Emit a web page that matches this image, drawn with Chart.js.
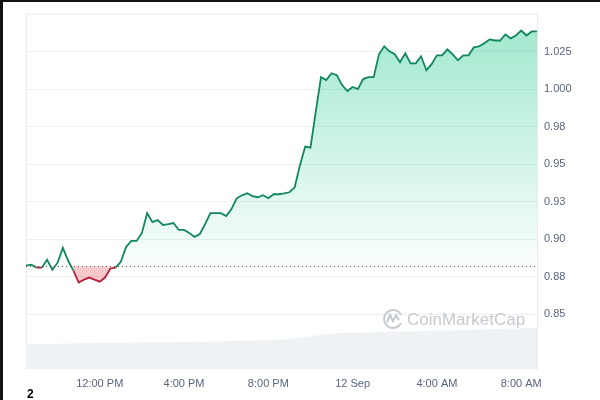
<!DOCTYPE html>
<html>
<head>
<meta charset="utf-8">
<script src="https://cdn.jsdelivr.net/npm/chart.js@4.4.1/dist/chart.umd.min.js"></script>
<style>
  html, body { margin: 0; padding: 0; background: #fff; }
  #wrap { position: relative; width: 600px; height: 400px; overflow: hidden; }
  #mycanvas { position: absolute; left: 0; top: 0; }
  .edge-top { position: absolute; left: 0; top: 0; width: 600px; height: 2px; background: #111; }
  .edge-left { position: absolute; left: 0; top: 0; width: 3px; height: 400px; background: #111; }
  .pg { position: absolute; left: 27px; top: 387px; font: bold 12px "Liberation Sans", Arial, sans-serif; color: #000; }
</style>
</head>
<body>
<div id="wrap">
  <canvas id="mycanvas" width="600" height="400"></canvas>
  <div class="edge-top"></div>
  <div class="edge-left"></div>
  <div class="pg">2</div>
</div>
<script>
// price every 15 min, from 8:30 AM (11 Sep) to 8:45 AM (12 Sep)
var startHour = 8.5;
var stepMin = 15;
var price = [
  0.8824, 0.8831, 0.8811, 0.8811, 0.8864, 0.8797, 0.8844, 0.8943, 0.8857, 0.8791,
  0.8712, 0.8731, 0.8745, 0.8731, 0.8718, 0.8745, 0.8804, 0.8811, 0.8850, 0.8949,
  0.8989, 0.8989, 0.9042, 0.9174, 0.9114, 0.9128, 0.9095, 0.9101, 0.9108, 0.9062,
  0.9062, 0.9042, 0.9016, 0.9035, 0.9101, 0.9174, 0.9174, 0.9174, 0.9154, 0.9201,
  0.9273, 0.9293, 0.9306, 0.9287, 0.9280, 0.9293, 0.9273, 0.9300, 0.9300, 0.9306,
  0.9313, 0.9346, 0.9492, 0.9617, 0.9610, 0.9848, 1.0080, 1.0060, 1.0106, 1.0093,
  1.0027, 0.9987, 1.0014, 1.0000, 1.0067, 1.0080, 1.0080, 1.0232, 1.0285, 1.0252,
  1.0232, 1.0179, 1.0238, 1.0172, 1.0172, 1.0219, 1.0126, 1.0166, 1.0225, 1.0225,
  1.0265, 1.0232, 1.0192, 1.0225, 1.0225, 1.0278, 1.0285, 1.0305, 1.0331, 1.0324,
  1.0324, 1.0364, 1.0338, 1.0357, 1.0390, 1.0357, 1.0384, 1.0384
];
var volume = [
  7.0, 7.0, 7.1, 7.0, 7.1, 7.1, 7.2, 7.1, 7.2, 7.2, 7.2, 7.3, 7.2, 7.3, 7.3,
  7.3, 7.3, 7.4, 7.4, 7.4, 7.4, 7.5, 7.4, 7.5, 7.5, 7.5, 7.5, 7.6, 7.5, 7.6, 7.6, 7.6, 7.7, 7.7,
  7.7, 7.8, 7.8, 7.8, 7.9, 7.9, 7.9, 8.0, 8.0, 8.0, 8.1, 8.1, 8.1, 8.2, 8.3, 8.4, 8.5, 8.6, 8.8,
  9.0, 9.2, 9.4, 9.6, 9.8, 9.9, 10.0, 10.1,
  10.1, 10.2, 10.2, 10.3, 10.3, 10.3, 10.4, 10.4, 10.5, 10.5, 10.5, 10.6, 10.6, 10.6, 10.7, 10.7,
  10.8, 10.8, 10.8, 10.9, 10.9, 11.0, 11.0, 11.0, 11.1, 11.1, 11.2, 11.2, 11.3, 11.3, 11.3, 11.4,
  11.4, 11.5, 11.5, 11.6, 11.7
];
var baseline = 0.8821;   // dotted reference (open price)
var yTickVals = [0.85, 0.875, 0.9, 0.925, 0.95, 0.975, 1.0, 1.025];
var yTickLabels = ['0.85', '0.88', '0.90', '0.93', '0.95', '0.98', '1.000', '1.025'];
var xTickIdx = [14, 30, 46, 62, 78, 94];
var xTickLabels = ['12:00 PM', '4:00 PM', '8:00 PM', '12 Sep', '4:00 AM', '8:00 AM'];

var labels = [];
for (var i = 0; i < price.length; i++) {
  var m = startHour * 60 + i * stepMin;
  var h = Math.floor(m / 60) % 24, mm = m % 60;
  labels.push(h + ':' + (mm < 10 ? '0' : '') + mm);
}

var green = '#10875c';
var red = '#b3213b';
var font = { family: '"Liberation Sans", Arial, sans-serif', size: 11 };

var extras = {
  id: 'extras',
  beforeDatasetsDraw: function(chart) {
    var c = chart.ctx, a = chart.chartArea;
    c.save();
    c.strokeStyle = '#e8eaed';
    c.lineWidth = 1;
    c.beginPath();
    c.moveTo(a.left + 0.5, a.bottom);
    c.lineTo(a.left + 0.5, a.top + 0.5);
    c.lineTo(a.right, a.top + 0.5);
    c.stroke();
    c.restore();
  },
  afterDatasetsDraw: function(chart) {
    var c = chart.ctx, a = chart.chartArea;
    var y = Math.round(chart.scales.y.getPixelForValue(baseline)) + 0.5;
    c.save();
    c.strokeStyle = '#555';
    c.lineWidth = 1;
    c.setLineDash([1, 3]);
    c.beginPath();
    c.moveTo(a.left, y);
    c.lineTo(a.right, y);
    c.stroke();
    c.setLineDash([]);
    // watermark
    c.strokeStyle = '#c5cad1';
    c.lineWidth = 2;
    c.beginPath();
    c.arc(393, 319, 9, 0.15 * Math.PI, 1.85 * Math.PI, false);
    c.stroke();
    c.beginPath();
    c.moveTo(387, 322);
    c.lineTo(390, 315);
    c.lineTo(393, 321);
    c.lineTo(396, 315);
    c.lineTo(399, 320);
    c.stroke();
    c.fillStyle = '#c5cad1';
    c.font = '17px "Liberation Sans", Arial, sans-serif';
    c.textBaseline = 'middle';
    c.fillText('CoinMarketCap', 407, 320);
    c.restore();
  }
};

var ctx = document.getElementById('mycanvas');
new Chart(ctx, {
  type: 'line',
  data: {
    labels: labels,
    datasets: [
      {
        data: price,
        yAxisID: 'y',
        order: 0,
        borderWidth: 1.8,
        pointRadius: 0,
        tension: 0,
        borderColor: green,
        segment: {
          borderColor: function(s) {
            return (s.p0.parsed.y < baseline && s.p1.parsed.y < baseline) ? red : green;
          }
        },
        backgroundColor: function(context) {
          var chart = context.chart, a = chart.chartArea;
          if (!a) return 'rgba(22,199,132,0.2)';
          var yb = chart.scales.y.getPixelForValue(baseline);
          var g = chart.ctx.createLinearGradient(0, a.top, 0, yb);
          g.addColorStop(0, 'rgba(22,199,132,0.42)');
          g.addColorStop(1, 'rgba(22,199,132,0.02)');
          return g;
        },
        fill: { target: { value: baseline }, below: 'rgba(234,57,67,0.28)' }
      },
      {
        data: volume,
        yAxisID: 'y2',
        order: 1,
        borderWidth: 0,
        pointRadius: 0,
        tension: 0.3,
        backgroundColor: '#eff2f5',
        fill: 'origin'
      }
    ]
  },
  options: {
    responsive: false,
    animation: false,
    layout: { padding: { left: 26, top: 11, right: 0, bottom: 0 } },
    plugins: { legend: { display: false }, tooltip: { enabled: false } },
    scales: {
      x: {
        grid: { display: false, drawTicks: false },
        border: { display: false },
        afterFit: function(s) { s.height = 31; },
        ticks: {
          autoSkip: false,
          maxRotation: 0,
          padding: 8,
          color: '#58667e',
          font: font,
          callback: function(v, i) {
            var k = xTickIdx.indexOf(i);
            return k >= 0 ? xTickLabels[k] : '';
          }
        }
      },
      y: {
        position: 'right',
        min: 0.8136,
        max: 1.0503,
        afterBuildTicks: function(s) {
          s.ticks = yTickVals.map(function(v) { return { value: v }; });
        },
        afterFit: function(s) { s.width = 63; },
        grid: { color: '#eceef1', drawTicks: false },
        border: { display: true, color: '#e8eaed' },
        ticks: {
          padding: 7,
          color: '#58667e',
          font: font,
          callback: function(v, i) { return yTickLabels[i]; }
        }
      },
      y2: { display: false, min: 0, max: 100 }
    }
  },
  plugins: [extras]
});
</script>
</body>
</html>
